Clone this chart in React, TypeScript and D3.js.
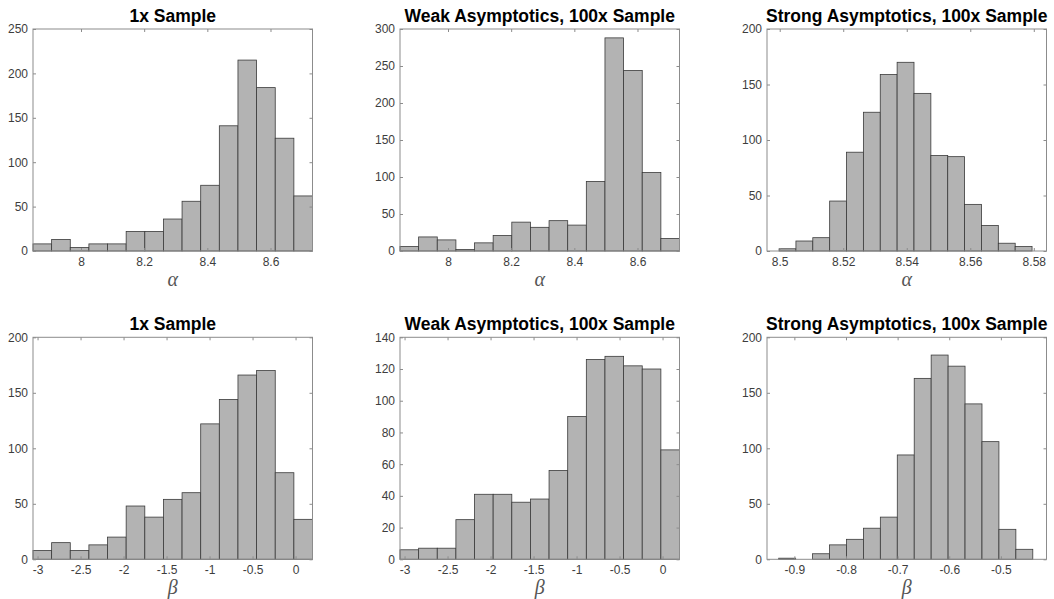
import React, { useEffect, useRef } from "react";
import * as d3 from "d3";

// histogram counts (15 bins each)
const alphaOne = [8, 13, 4, 8, 8, 22, 22, 36, 56, 74, 141, 215, 184, 127, 62];
const alphaWeak = [6, 19, 15, 2, 11, 21, 39, 32, 41, 35, 94, 288, 244, 106, 17];
const alphaStrong = [2, 9, 12, 45, 89, 125, 159, 170, 142, 86, 85, 42, 23, 7, 4];
const betaOne = [8, 15, 8, 13, 20, 48, 38, 54, 60, 122, 144, 166, 170, 78, 36];
const betaWeak = [6, 7, 7, 25, 41, 41, 36, 38, 56, 90, 126, 128, 122, 120, 69];
const betaStrong = [1, 0, 5, 13, 18, 28, 38, 94, 163, 184, 174, 140, 106, 27, 9];

// bin layout: [first edge, bin width]
const alphaBins = [7.848, 0.059];
const alphaStrongBins = [8.4998, 0.00531];
const betaBins = [-3.053, 0.21667];
const betaStrongBins = [-0.9303, 0.03281];

const alphaTicks = [8, 8.2, 8.4, 8.6];
const alphaStrongTicks = [8.5, 8.52, 8.54, 8.56, 8.58];
const betaTicks = [-3, -2.5, -2, -1.5, -1, -0.5, 0];
const betaStrongTicks = [-0.9, -0.8, -0.7, -0.6, -0.5];

const titles = ["1x Sample", "Weak Asymptotics, 100x Sample", "Strong Asymptotics, 100x Sample"];

const panels = [
  { counts: alphaOne, bins: alphaBins, xDom: [7.848, 8.733], yMax: 250, yStep: 50, xTicks: alphaTicks, label: "α", title: titles[0] },
  { counts: alphaWeak, bins: alphaBins, xDom: [7.848, 8.733], yMax: 300, yStep: 50, xTicks: alphaTicks, label: "α", title: titles[1] },
  { counts: alphaStrong, bins: alphaStrongBins, xDom: [8.496, 8.584], yMax: 200, yStep: 50, xTicks: alphaStrongTicks, label: "α", title: titles[2] },
  { counts: betaOne, bins: betaBins, xDom: [-3.053, 0.197], yMax: 200, yStep: 50, xTicks: betaTicks, label: "β", title: titles[0] },
  { counts: betaWeak, bins: betaBins, xDom: [-3.053, 0.197], yMax: 140, yStep: 20, xTicks: betaTicks, label: "β", title: titles[1] },
  { counts: betaStrong, bins: betaStrongBins, xDom: [-0.953, -0.4116], yMax: 200, yStep: 50, xTicks: betaStrongTicks, label: "β", title: titles[2] },
];

const W = 1054, H = 599;
const colLeft = [33, 400, 767];
const rowTop = [29, 337.3];
const pw = 279.5, ph = 222;

export default function App() {
  const ref = useRef<SVGSVGElement>(null);

  useEffect(() => {
    const svg = d3.select(ref.current);
    svg.selectAll("*").remove();

    panels.forEach((p, i) => {
      const left = colLeft[i % 3];
      const top = rowTop[Math.floor(i / 3)];
      const g = svg.append("g").attr("transform", `translate(${left},${top})`);

      const x = d3.scaleLinear().domain(p.xDom).range([0, pw]);
      const y = d3.scaleLinear().domain([0, p.yMax]).range([ph, 0]);
      const yTicks = d3.range(0, p.yMax + 1, p.yStep);

      const [start, width] = p.bins;
      g.selectAll("rect.bar")
        .data(p.counts)
        .enter()
        .append("rect")
        .attr("class", "bar")
        .attr("x", (d, k) => x(start + k * width))
        .attr("width", (d, k) => x(start + (k + 1) * width) - x(start + k * width))
        .attr("y", (d) => y(d))
        .attr("height", (d) => ph - y(d))
        .attr("fill", "#b3b3b3")
        .attr("stroke", "#3a3a3a")
        .attr("stroke-width", 0.8);

      const fmt = (d: any) => String(d);
      const bottom = g.append("g").attr("transform", `translate(0,${ph})`)
        .call(d3.axisBottom(x).tickValues(p.xTicks).tickSize(-3).tickPadding(6).tickFormat(fmt));
      const topAx = g.append("g")
        .call(d3.axisTop(x).tickValues(p.xTicks).tickSize(-3).tickFormat(() => ""));
      const leftAx = g.append("g")
        .call(d3.axisLeft(y).tickValues(yTicks).tickSize(-3).tickPadding(5).tickFormat(fmt));
      const rightAx = g.append("g").attr("transform", `translate(${pw},0)`)
        .call(d3.axisRight(y).tickValues(yTicks).tickSize(-3).tickFormat(() => ""));

      [bottom, topAx, leftAx, rightAx].forEach((a) => {
        a.select(".domain").remove();
        a.selectAll("line").attr("stroke", "#8c8c8c");
        a.selectAll("text")
          .attr("fill", "#3d3d3d")
          .style("font-family", "'Liberation Sans', Arial, sans-serif")
          .style("font-size", "12px");
      });

      g.append("rect")
        .attr("width", pw)
        .attr("height", ph)
        .attr("fill", "none")
        .attr("stroke", "#8c8c8c")
        .attr("stroke-width", 1);

      g.append("text")
        .attr("x", pw / 2)
        .attr("y", -7)
        .attr("text-anchor", "middle")
        .style("font-family", "'Liberation Sans', Arial, sans-serif")
        .style("font-weight", "bold")
        .style("font-size", "17.5px")
        .attr("fill", "#000")
        .text(p.title);

      g.append("text")
        .attr("x", pw / 2)
        .attr("y", ph + 35)
        .attr("text-anchor", "middle")
        .style("font-family", "'Liberation Serif', 'DejaVu Serif', serif")
        .style("font-style", "italic")
        .style("font-size", "20px")
        .attr("fill", "#555")
        .text(p.label);
    });
  }, []);

  return (
    <svg
      ref={ref}
      width={W}
      height={H}
      style={{ position: "absolute", left: 0, top: 0, background: "#fff" }}
    />
  );
}
